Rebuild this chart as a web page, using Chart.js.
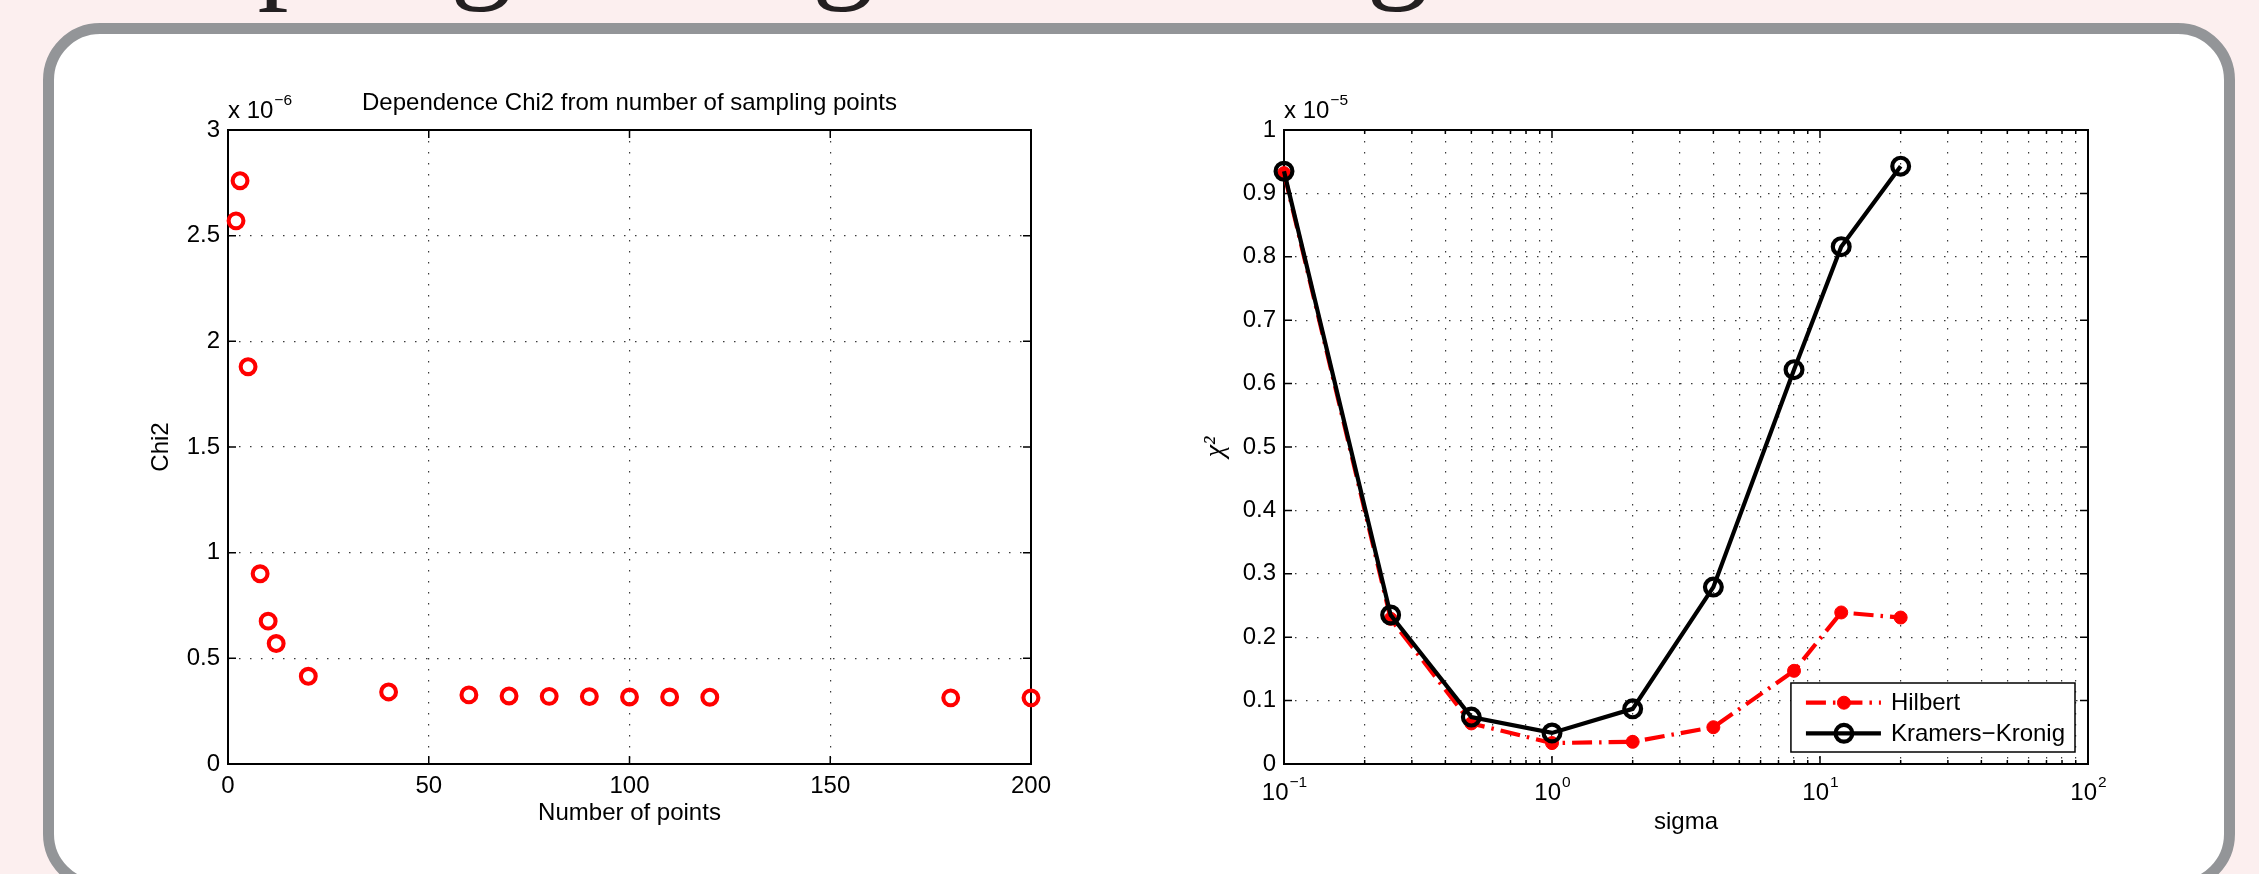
<!DOCTYPE html>
<html>
<head>
<meta charset="utf-8">
<script src="https://cdn.jsdelivr.net/npm/chart.js@4.4.1/dist/chart.umd.min.js"></script>
<style>
  html, body { margin: 0; padding: 0; }
  body { width: 2259px; height: 874px; overflow: hidden; background: #fcefef; position: relative; }
  #heading { position: absolute; left: 37px; top: -118px; font-family: 'Liberation Serif', 'Times New Roman', serif;
             font-size: 124px; line-height: 124px; color: #231f20; white-space: nowrap; }
  #panel { position: absolute; left: 43px; top: 23px; width: 2192px; height: 868px; box-sizing: border-box;
           border: 11px solid #939598; border-radius: 57px; background: #fff; }
  canvas { position: absolute; }
  #chartSampling { left: 100px; top: 40px; }
  #chartSigma { left: 1150px; top: 40px; }
</style>
</head>
<body>
<div id="heading">Sampling testing smoothing</div>
<div id="panel"></div>
<canvas id="chartSampling" width="1000" height="820"></canvas>
<canvas id="chartSigma" width="1000" height="820"></canvas>
<script>
// --- left panel: chi2 vs number of sampling points (values x 10^-6) ---
const samplingPoints = [2, 3, 5, 8, 10, 12, 20, 40, 60, 70, 80, 90, 100, 110, 120, 180, 200];
const chi2Sampling = [2.57, 2.76, 1.88, 0.90, 0.676, 0.570, 0.415, 0.341, 0.327, 0.322, 0.320, 0.319, 0.317, 0.317, 0.316, 0.313, 0.313];
const samplingXTicks = [0, 50, 100, 150, 200];
const samplingYTicks = [0, 0.5, 1, 1.5, 2, 2.5, 3];

// --- right panel: chi2 vs sigma (values x 10^-5) ---
const sigmaValues = [0.1, 0.25, 0.5, 1, 2, 4, 8, 12, 20];
const chi2Hilbert = [0.932, 0.229, 0.064, 0.033, 0.035, 0.058, 0.147, 0.239, 0.231];
const chi2KramersKronig = [0.935, 0.235, 0.074, 0.049, 0.087, 0.279, 0.622, 0.816, 0.943];
const sigmaDecades = [0.1, 1, 10, 100];
const sigmaDecadeExponents = ['\u22121', '0', '1', '2'];
const sigmaYTicks = [0, 0.1, 0.2, 0.3, 0.4, 0.5, 0.6, 0.7, 0.8, 0.9, 1];

const family = "'Liberation Sans', Arial, Helvetica, sans-serif";
const tickFont = { family, size: 24 };

// log grid: 1..9 in each decade
const sigmaGridTicks = [];
sigmaDecades.slice(0, -1).forEach(d => { for (let k = 1; k <= 9; k++) sigmaGridTicks.push(k * d); });
sigmaGridTicks.push(sigmaDecades[sigmaDecades.length - 1]);

function drawLegend(chart) {
    const { ctx, chartArea: a } = chart;
    const items = chart.data.datasets;
    ctx.font = '24px ' + family;
    const textW = Math.max(...items.map(d => ctx.measureText(d.label).width));
    const w = 100 + textW + 10, h = 69;
    const left = a.right - 13 - w, top = a.bottom - 12 - h;
    ctx.fillStyle = '#fff';
    ctx.fillRect(left, top, w, h);
    ctx.strokeStyle = '#000';
    ctx.lineWidth = 1.5;
    ctx.strokeRect(left, top, w, h);
    items.forEach((d, i) => {
        const cy = top + 19.7 + i * 30.6;
        ctx.save();
        ctx.strokeStyle = d.borderColor;
        ctx.lineWidth = d.borderWidth;
        ctx.setLineDash(d.borderDash || []);
        ctx.beginPath();
        ctx.moveTo(left + 15, cy);
        ctx.lineTo(left + 90, cy);
        ctx.stroke();
        ctx.setLineDash([]);
        ctx.beginPath();
        ctx.arc(left + 53, cy, d.pointRadius, 0, 2 * Math.PI);
        ctx.fillStyle = d.pointBackgroundColor;
        ctx.fill();
        ctx.lineWidth = d.pointBorderWidth;
        ctx.strokeStyle = d.pointBorderColor;
        ctx.stroke();
        ctx.restore();
        ctx.fillStyle = '#000';
        ctx.textAlign = 'left';
        ctx.textBaseline = 'middle';
        ctx.fillText(d.label, left + 100, cy + 1);
    });
}

// MATLAB-like box, inner ticks, exponent labels
function makeAxesPlugin(cfg) {
    return {
        id: 'matlabAxes',
        beforeDatasetsDraw(chart) {
            const { ctx, chartArea: a, scales: { x, y } } = chart;
            ctx.save();
            ctx.strokeStyle = '#000';
            ctx.lineWidth = 1.5;
            ctx.beginPath();
            x.ticks.forEach(t => {
                const px = x.getPixelForValue(t.value);
                const len = (cfg.logX && !t.major) ? 4 : 8;
                ctx.moveTo(px, a.bottom); ctx.lineTo(px, a.bottom - len);
                ctx.moveTo(px, a.top); ctx.lineTo(px, a.top + len);
            });
            y.ticks.forEach(t => {
                const py = y.getPixelForValue(t.value);
                ctx.moveTo(a.left, py); ctx.lineTo(a.left + 8, py);
                ctx.moveTo(a.right, py); ctx.lineTo(a.right - 8, py);
            });
            ctx.stroke();
            ctx.lineWidth = 2;
            ctx.strokeRect(a.left, a.top, a.right - a.left, a.bottom - a.top);
            ctx.restore();
        },
        afterDraw(chart) {
            const { ctx, chartArea: a, scales: { x } } = chart;
            ctx.save();
            ctx.fillStyle = '#000';
            ctx.textAlign = 'left';
            ctx.textBaseline = 'alphabetic';
            ctx.font = '24px ' + family;
            ctx.fillText('x 10', a.left, a.top - 12);
            const w = ctx.measureText('x 10').width;
            ctx.font = '15.5px ' + family;
            ctx.fillText(cfg.exponent, a.left + w + 1, a.top - 25);

            if (cfg.logX) {
                sigmaDecades.forEach((v, i) => {
                    const px = x.getPixelForValue(v);
                    ctx.font = '24px ' + family;
                    const wb = ctx.measureText('10').width;
                    ctx.font = '15.5px ' + family;
                    const we = ctx.measureText(sigmaDecadeExponents[i]).width;
                    const x0 = px - (wb + we) / 2;
                    ctx.font = '24px ' + family;
                    ctx.fillText('10', x0, a.bottom + 36);
                    ctx.font = '15.5px ' + family;
                    ctx.fillText(sigmaDecadeExponents[i], x0 + wb + 1, a.bottom + 23);
                });
            }
            if (cfg.legend) drawLegend(chart);
            ctx.restore();
        }
    };
}

const dottedGrid = { color: '#3a3a3a', lineWidth: 1.2, drawTicks: false };
const dottedBorder = { display: false, dash: [1.5, 9.5] };

// 1. Chi2 vs number of points
new Chart(document.getElementById('chartSampling'), {
    type: 'scatter',
    data: {
        datasets: [{
            label: 'Chi2',
            data: samplingPoints.map((p, i) => ({ x: p, y: chi2Sampling[i] })),
            showLine: false,
            pointStyle: 'circle',
            pointRadius: 7.4,
            pointBorderWidth: 4.1,
            pointBorderColor: '#ff0000',
            pointBackgroundColor: 'rgba(0,0,0,0)',
            clip: false
        }]
    },
    options: {
        responsive: false,
        animation: false,
        layout: { padding: { left: 0, right: 69, top: 0, bottom: 0 }, autoPadding: false },
        plugins: {
            legend: { display: false },
            tooltip: { enabled: false },
            title: {
                display: true,
                text: 'Dependence Chi2 from number of sampling points',
                fullSize: false,
                color: '#000',
                font: { family, size: 24, weight: 'normal' },
                padding: { top: 48.6, bottom: 12.6 }
            }
        },
        scales: {
            x: {
                type: 'linear', min: 0, max: 200,
                afterBuildTicks: s => { s.ticks = samplingXTicks.map(v => ({ value: v })); },
                afterFit: s => { s.height = 96; },
                grid: dottedGrid, border: dottedBorder,
                ticks: { padding: 8, font: tickFont, color: '#000', autoSkip: false, maxRotation: 0 },
                title: { display: true, text: 'Number of points', color: '#000', font: tickFont, padding: { top: 0, bottom: 32.2 } }
            },
            y: {
                type: 'linear', min: 0, max: 3,
                afterBuildTicks: s => { s.ticks = samplingYTicks.map(v => ({ value: v })); },
                afterFit: s => { s.width = 128; },
                grid: dottedGrid, border: dottedBorder,
                ticks: { padding: 8, font: tickFont, color: '#000', autoSkip: false, callback: v => String(+v.toFixed(2)) },
                title: { display: true, text: 'Chi2', color: '#000', font: tickFont, padding: { top: 46.6, bottom: 0 } }
            }
        }
    },
    plugins: [makeAxesPlugin({ exponent: '\u22126' })]
});

// 2. Chi2 vs sigma
new Chart(document.getElementById('chartSigma'), {
    type: 'scatter',
    data: {
        datasets: [
            {
                label: 'Hilbert',
                data: sigmaValues.map((s, i) => ({ x: s, y: chi2Hilbert[i] })),
                showLine: true,
                borderColor: '#ff0000',
                borderWidth: 4.2,
                borderDash: [20, 7, 2.5, 7],
                pointRadius: 6.5,
                pointBorderWidth: 1,
                pointBorderColor: '#ff0000',
                pointBackgroundColor: '#ff0000',
                order: 1,
                clip: false
            },
            {
                label: 'Kramers\u2212Kronig',
                data: sigmaValues.map((s, i) => ({ x: s, y: chi2KramersKronig[i] })),
                showLine: true,
                borderColor: '#000',
                borderWidth: 4.2,
                pointRadius: 8.4,
                pointBorderWidth: 4.2,
                pointBorderColor: '#000',
                pointBackgroundColor: 'rgba(0,0,0,0)',
                order: 0,
                clip: false
            }
        ]
    },
    options: {
        responsive: false,
        animation: false,
        layout: { padding: { left: 0, right: 62, top: 90, bottom: 0 }, autoPadding: false },
        plugins: { legend: { display: false }, tooltip: { enabled: false } },
        scales: {
            x: {
                type: 'logarithmic', min: 0.1, max: 100,
                afterBuildTicks: s => {
                    s.ticks = sigmaGridTicks.map(v => ({ value: v, major: sigmaDecades.some(d => Math.abs(d - v) < 1e-9) }));
                },
                afterFit: s => { s.height = 96; },
                grid: dottedGrid, border: dottedBorder,
                ticks: { display: false },
                title: { display: true, text: 'sigma', color: '#000', font: tickFont, padding: { top: 0, bottom: 23.6 } }
            },
            y: {
                type: 'linear', min: 0, max: 1,
                afterBuildTicks: s => { s.ticks = sigmaYTicks.map(v => ({ value: v })); },
                afterFit: s => { s.width = 134; },
                grid: dottedGrid, border: dottedBorder,
                ticks: { padding: 8, font: tickFont, color: '#000', autoSkip: false, callback: v => String(+v.toFixed(2)) },
                title: {
                    display: true, text: '\u03c7\u00b2', color: '#000',
                    font: { family: "'Liberation Serif', 'Times New Roman', serif", size: 28, style: 'italic' },
                    padding: { top: 49.2, bottom: 0 }
                }
            }
        }
    },
    plugins: [makeAxesPlugin({ exponent: '\u22125', logX: true, legend: true })]
});
</script>
</body>
</html>
